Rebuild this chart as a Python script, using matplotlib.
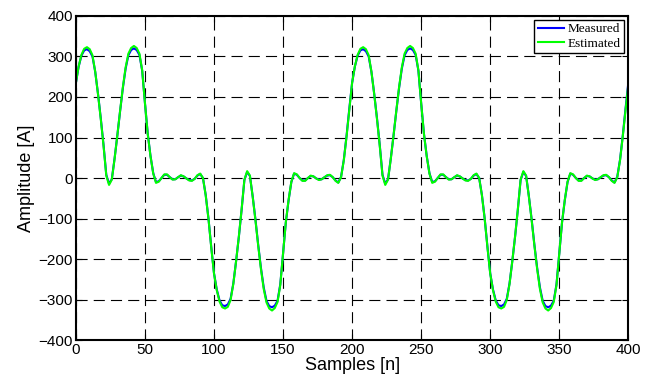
import matplotlib
matplotlib.use("Agg")
import matplotlib.pyplot as plt
import numpy as np

# sample index, every 2nd sample
samples = np.arange(0, 401, 2)

# one period (0..198)
measured_period = [
    235, 275, 302, 315, 318, 313, 300, 262, 208, 148,
    82, 8, -14, -3, 48, 105, 165, 222, 270, 303,
    316, 320, 316, 304, 265, 185, 110, 55, 12, -10,
    -8, 0, 8, 8, 2, -3, -3, 2, 6, 4,
    -1, -5, -6, -2, 6, 10, 0, -42, -100, -170,
    -235, -275, -302, -314, -316, -312, -298, -260, -205, -145,
    -78, -5, 15, 5, -45, -102, -165, -222, -270, -303,
    -316, -319, -315, -303, -262, -185, -110, -55, -10, 11,
    8, 0, -6, -6, 0, 5, 4, -1, -4, -3,
    2, 6, 7, 2, -6, -11, 3, 45, 105, 172,
]
measured = measured_period + measured_period + [235]

estimated_period = [
    235, 276, 304, 319, 323, 318, 303, 262, 207, 146,
    80, 6, -17, -4, 47, 105, 166, 224, 273, 307,
    321, 326, 321, 307, 266, 185, 109, 54, 11, -12,
    -9, 0, 9, 9, 2, -4, -3, 2, 7, 4,
    -1, -6, -7, -2, 7, 11, 0, -43, -101, -171,
    -236, -277, -305, -319, -322, -318, -301, -261, -205, -144,
    -77, -4, 17, 6, -46, -104, -167, -225, -274, -307,
    -322, -327, -321, -306, -264, -185, -109, -54, -9, 12,
    9, 0, -7, -7, 0, 6, 4, -1, -5, -3,
    2, 7, 8, 2, -7, -12, 2, 44, 103, 168,
]
estimated = estimated_period + estimated_period + [230]

xticks = list(range(0, 401, 50))
yticks = list(range(-400, 401, 100))

plt.rcParams["font.family"] = ["Liberation Sans", "DejaVu Sans"]

fig = plt.figure(figsize=(6.6, 3.8), dpi=100)
ax = fig.add_axes([0.115, 0.105, 0.837, 0.853])

ax.plot(samples, measured, color="#0000FF", lw=1.5, label="Measured")
ax.plot(samples, estimated, color="#00FF00", lw=1.5, label="Estimated")

ax.set_xlim(0, 400)
ax.set_ylim(-400, 400)
ax.set_xticks(xticks)
ax.set_yticks(yticks)
ax.tick_params(direction="in", length=4, width=0.8, top=True, right=True,
               labelsize=11, pad=2, colors="black")
ax.grid(True, color="black", linestyle=(0, (10, 5.5)), linewidth=0.8)
ax.set_axisbelow(True)
for sp in ax.spines.values():
    sp.set_linewidth(1.5)
    sp.set_color("black")

ax.set_xlabel("Samples [n]", fontsize=13, labelpad=0)
ax.set_ylabel("Amplitude [A]", fontsize=13, labelpad=3)

leg = ax.legend(loc="upper right", prop={"family": "Liberation Serif", "size": 9.5},
                fancybox=False, framealpha=1, edgecolor="black", borderaxespad=0.3,
                handlelength=2.0, handletextpad=0.3, borderpad=0.25, labelspacing=0.15)
leg.get_frame().set_linewidth(1.0)

fig.savefig("out.png", dpi=100)
